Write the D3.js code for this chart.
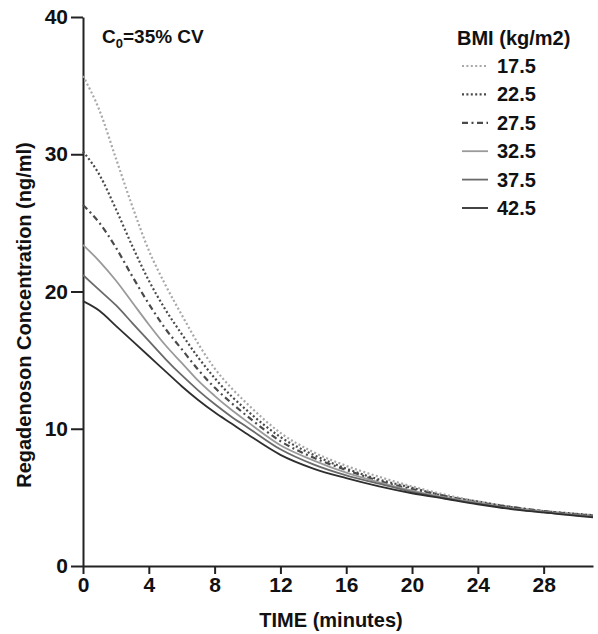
<!DOCTYPE html>
<html>
<head>
<meta charset="utf-8">
<script src="https://cdn.jsdelivr.net/npm/d3@7"></script>
<style>
  body { margin: 0; background: #fff; }
  svg text { font-family: "Liberation Sans", Arial, sans-serif; font-weight: bold; fill: #111; }
</style>
</head>
<body>
<div id="chart"></div>
<script>
// Time points (minutes)
var times = [0, 1, 2, 3, 4, 5, 6, 7, 8, 9, 10, 12, 14, 16, 18, 20, 22, 24, 26, 28, 30, 31];

// Concentrations (ng/ml), one array per BMI
var bmi175 = [35.7, 33.2, 29.7, 26.2, 23.0, 20.5, 18.3, 16.2, 14.4, 13.0, 11.8, 9.7, 8.3, 7.3, 6.5, 5.8, 5.2, 4.7, 4.3, 4.0, 3.8, 3.7];
var bmi225 = [30.2, 28.5, 26.0, 23.3, 20.8, 18.7, 16.9, 15.2, 13.7, 12.4, 11.3, 9.4, 8.1, 7.1, 6.3, 5.7, 5.1, 4.7, 4.3, 4.0, 3.8, 3.7];
var bmi275 = [26.3, 25.0, 23.2, 21.1, 19.1, 17.3, 15.8, 14.3, 13.0, 11.9, 10.9, 9.1, 7.9, 7.0, 6.2, 5.6, 5.1, 4.6, 4.3, 4.0, 3.75, 3.65];
var bmi325 = [23.4, 22.2, 20.8, 19.2, 17.6, 16.1, 14.8, 13.5, 12.4, 11.4, 10.5, 8.8, 7.7, 6.8, 6.1, 5.5, 5.0, 4.6, 4.2, 3.95, 3.7, 3.6];
var bmi375 = [21.2, 20.1, 19.0, 17.7, 16.4, 15.1, 13.9, 12.8, 11.8, 10.9, 10.1, 8.5, 7.4, 6.6, 6.0, 5.4, 4.95, 4.55, 4.2, 3.9, 3.7, 3.6];
var bmi425 = [19.3, 18.6, 17.5, 16.4, 15.3, 14.2, 13.1, 12.1, 11.2, 10.4, 9.6, 8.1, 7.1, 6.4, 5.8, 5.3, 4.9, 4.5, 4.15, 3.9, 3.65, 3.55];

var bmiLabels = ["17.5", "22.5", "27.5", "32.5", "37.5", "42.5"];
var xTicks = [0, 4, 8, 12, 16, 20, 24, 28];
var yTicks = [0, 10, 20, 30, 40];

var seriesValues = [bmi175, bmi225, bmi275, bmi325, bmi375, bmi425];

// line styles per series
var styles = [
    { color: "#a8a8a8", dash: "2,2.4", width: 2.2 },
    { color: "#4a4a4a", dash: "2,2.4", width: 2.2 },
    { color: "#4a4a4a", dash: "6,3.5,2,3.5", width: 2.2 },
    { color: "#9a9a9a", dash: null, width: 1.8 },
    { color: "#6a6a6a", dash: null, width: 1.8 },
    { color: "#2e2e2e", dash: null, width: 1.8 }
];

var W = 598, H = 634;
var margin = { top: 17, right: 5, bottom: 68, left: 83 };
var width = W - margin.left - margin.right,
    height = H - margin.top - margin.bottom;

var svg = d3.select("#chart")
    .append("svg")
    .attr("width", W)
    .attr("height", H);

var g = svg.append("g")
    .attr("transform", "translate(" + margin.left + "," + margin.top + ")");

var x = d3.scaleLinear().domain([0, 31]).range([0, width]);
var y = d3.scaleLinear().domain([0, 40]).range([height, 0]);

// X axis
var xAxis = g.append("g")
    .attr("transform", "translate(0," + height + ")")
    .call(d3.axisBottom(x).tickValues(xTicks).tickSize(8).tickPadding(3).tickSizeOuter(0));
xAxis.select(".domain").attr("stroke", "#222").attr("stroke-width", 2);
xAxis.selectAll(".tick line").attr("stroke", "#222").attr("stroke-width", 2);
xAxis.selectAll(".tick text").style("font-size", "21px").attr("fill", "#111");

// Y axis
var yAxis = g.append("g")
    .call(d3.axisLeft(y).tickValues(yTicks).tickSize(12).tickPadding(3).tickSizeOuter(0));
yAxis.select(".domain").attr("stroke", "#222").attr("stroke-width", 2);
yAxis.selectAll(".tick line").attr("stroke", "#222").attr("stroke-width", 2);
yAxis.selectAll(".tick text").style("font-size", "21px").attr("fill", "#111");

// Axis titles
svg.append("text")
    .attr("text-anchor", "middle")
    .attr("x", 331)
    .attr("y", 627)
    .style("font-size", "20px")
    .text("TIME (minutes)");

svg.append("text")
    .attr("text-anchor", "middle")
    .attr("transform", "translate(31,315) rotate(-90)")
    .style("font-size", "20px")
    .text("Regadenoson Concentration (ng/ml)");

// Annotation
var ann = svg.append("text")
    .attr("x", 102)
    .attr("y", 43)
    .style("font-size", "19px");
ann.append("tspan").text("C");
ann.append("tspan").attr("dy", 5).style("font-size", "13px").text("0");
ann.append("tspan").attr("dy", -5).text("=35% CV");

// Lines
var line = d3.line()
    .x(function (d) { return x(d[0]); })
    .y(function (d) { return y(d[1]); })
    .curve(d3.curveMonotoneX);

seriesValues.forEach(function (vals, i) {
    var pts = times.map(function (t, j) { return [t, vals[j]]; });
    var p = g.append("path")
        .datum(pts)
        .attr("d", line)
        .attr("fill", "none")
        .attr("stroke", styles[i].color)
        .attr("stroke-width", styles[i].width);
    if (styles[i].dash) p.attr("stroke-dasharray", styles[i].dash);
});

// Legend
svg.append("text")
    .attr("x", 457)
    .attr("y", 45)
    .style("font-size", "20px")
    .text("BMI (kg/m2)");

var legend = svg.append("g");
bmiLabels.forEach(function (lab, i) {
    var ly = 66 + i * 28.4;
    var l = legend.append("line")
        .attr("x1", 462).attr("x2", 488)
        .attr("y1", ly).attr("y2", ly)
        .attr("stroke", styles[i].color)
        .attr("stroke-width", styles[i].width);
    if (styles[i].dash) l.attr("stroke-dasharray", styles[i].dash);
    legend.append("text")
        .attr("x", 497)
        .attr("y", ly + 7)
        .style("font-size", "20px")
        .text(lab);
});
</script>
</body>
</html>
